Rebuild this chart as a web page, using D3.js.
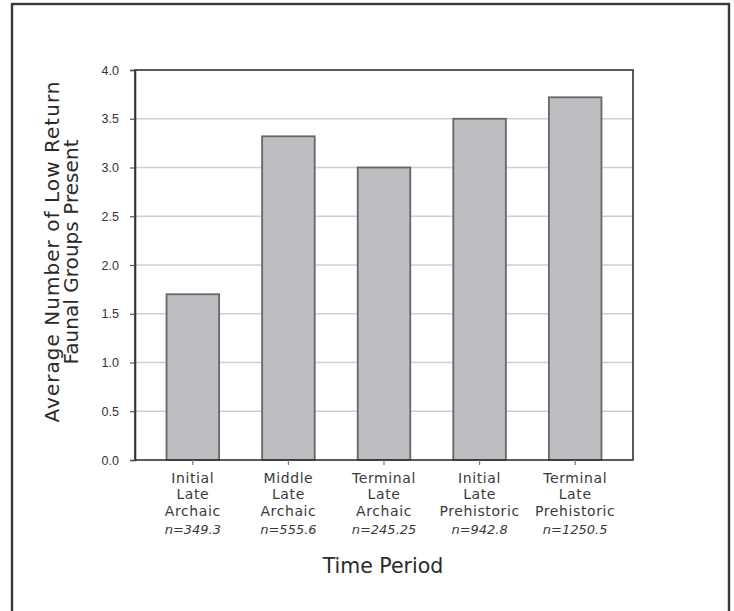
<!DOCTYPE html>
<html>
<head>
<meta charset="utf-8">
<script src="https://cdn.jsdelivr.net/npm/d3@7"></script>
<style>
  html, body { margin: 0; padding: 0; background: #fff; }
  svg { display: block; }
</style>
</head>
<body>
<svg id="chart" width="734" height="611"></svg>
<script>
// ---- data ----
const categories = [
  ["Initial", "Late", "Archaic"],
  ["Middle", "Late", "Archaic"],
  ["Terminal", "Late", "Archaic"],
  ["Initial", "Late", "Prehistoric"],
  ["Terminal", "Late", "Prehistoric"]
];
const sampleSizes = ["n=349.3", "n=555.6", "n=245.25", "n=942.8", "n=1250.5"];
const values = [1.70, 3.32, 3.00, 3.50, 3.72];
const yTicks = [0, 0.5, 1.0, 1.5, 2.0, 2.5, 3.0, 3.5, 4.0];
const yTitle = ["Average Number of Low Return", "Faunal Groups Present"];
const xTitle = "Time Period";

// ---- layout ----
const svg = d3.select("#chart");
const plot = { left: 135, right: 633, top: 70, bottom: 460 };

// outer frame
svg.append("rect")
  .attr("x", 12).attr("y", 4)
  .attr("width", 717).attr("height", 640)
  .attr("fill", "none")
  .attr("stroke", "#3a3a3a")
  .attr("stroke-width", 2.4);

const ids = d3.range(categories.length);
const x = d3.scaleBand()
  .domain(ids)
  .range([plot.left, plot.right])
  .paddingInner(0.45)
  .paddingOuter(0.33);

const y = d3.scaleLinear()
  .domain([0, 4])
  .range([plot.bottom, plot.top]);

// gridlines
svg.append("g")
  .selectAll("line")
  .data(yTicks.filter(t => t > 0 && t < 4))
  .join("line")
  .attr("x1", plot.left).attr("x2", plot.right)
  .attr("y1", d => y(d)).attr("y2", d => y(d))
  .attr("stroke", "#cfcfcf")
  .attr("stroke-width", 1.5);

// bars
svg.append("g")
  .selectAll("rect")
  .data(values)
  .join("rect")
  .attr("x", (d, i) => x(i))
  .attr("y", d => y(d))
  .attr("width", x.bandwidth())
  .attr("height", d => y(0) - y(d))
  .attr("fill", "#bdbec2")
  .attr("stroke", "#666")
  .attr("stroke-width", 1.8);

// plot frame
svg.append("rect")
  .attr("x", plot.left).attr("y", plot.top)
  .attr("width", plot.right - plot.left)
  .attr("height", plot.bottom - plot.top)
  .attr("fill", "none")
  .attr("stroke", "#333")
  .attr("stroke-width", 1.6);

// y axis
const yAxis = svg.append("g")
  .attr("transform", `translate(${plot.left},0)`)
  .call(d3.axisLeft(y).tickValues(yTicks).tickFormat(d3.format(".1f")).tickSize(5).tickPadding(11));
yAxis.select(".domain").attr("stroke", "#333").attr("stroke-width", 1.6);
yAxis.selectAll(".tick line").attr("stroke", "#555").attr("stroke-width", 1.2);
yAxis.selectAll(".tick text")
  .attr("font-family", "'Liberation Sans', Arial, sans-serif")
  .attr("font-size", 12.5)
  .attr("fill", "#333");

// x axis ticks
const xAxis = svg.append("g")
  .attr("transform", `translate(0,${plot.bottom})`)
  .call(d3.axisBottom(x).tickSize(5).tickFormat(""));
xAxis.select(".domain").remove();
xAxis.selectAll(".tick line").attr("stroke", "#777").attr("stroke-width", 1.2);

// x category labels
const labelG = svg.append("g")
  .attr("font-family", "'DejaVu Sans', sans-serif")
  .attr("fill", "#3a3a3a")
  .attr("text-anchor", "middle");
const baselines = [482.5, 499, 515.5];
categories.forEach((lines, i) => {
  const cx = x(i) + x.bandwidth() / 2;
  lines.forEach((ln, j) => {
    labelG.append("text")
      .attr("x", cx).attr("y", baselines[j])
      .attr("font-size", 14)
      .attr("letter-spacing", 0.6)
      .text(ln);
  });
  labelG.append("text")
    .attr("x", cx).attr("y", 534)
    .attr("font-size", 13)
    .attr("font-style", "italic")
    .text(sampleSizes[i]);
});

// x title
svg.append("text")
  .attr("x", 383).attr("y", 573)
  .attr("text-anchor", "middle")
  .attr("font-family", "'DejaVu Sans', sans-serif")
  .attr("font-size", 20.5)
  .attr("fill", "#2a2a2a")
  .text(xTitle);

// y title
const yt = svg.append("g")
  .attr("transform", "translate(0,252) rotate(-90)")
  .attr("font-family", "'DejaVu Sans', sans-serif")
  .attr("font-size", 20)
  .attr("fill", "#2a2a2a")
  .attr("text-anchor", "middle");
const yTitleBase = [58.5, 78];
const yTitleLen = [341, 225];
yTitle.forEach((t, i) => {
  yt.append("text")
    .attr("x", 0).attr("y", yTitleBase[i])
    .attr("textLength", yTitleLen[i])
    .attr("lengthAdjust", "spacing")
    .text(t);
});
</script>
</body>
</html>
